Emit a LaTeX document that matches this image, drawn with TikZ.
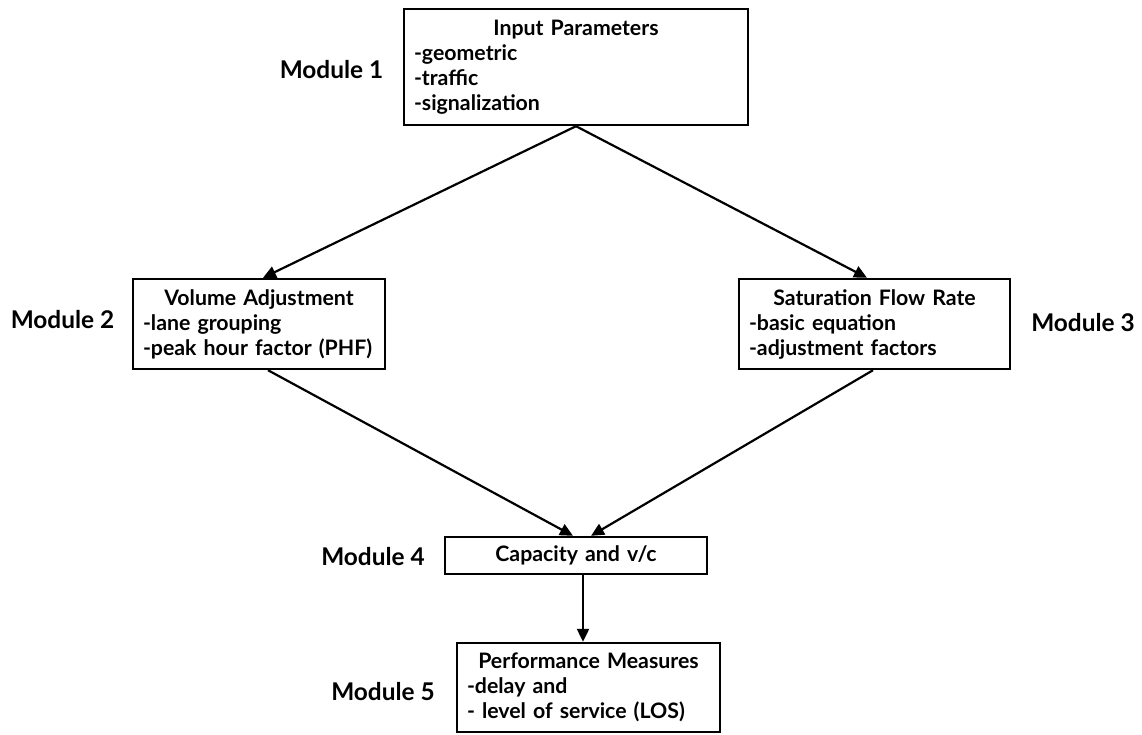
\documentclass[tikz,border=0pt]{standalone}
\usepackage{fontspec}
\setmainfont{Lato}
\usetikzlibrary{arrows.meta,calc}
\tikzset{
  box/.style={draw, line width=2.4pt, inner sep=0pt, align=left,
    font=\fontsize{21.3}{25}\selectfont\bfseries},
  modlabel/.style={inner sep=0pt, font=\fontsize{24.4}{28}\selectfont\bfseries},
  conn/.style={line width=2.2pt, -{Triangle[length=13pt,width=12pt]}}
}
\begin{document}
\begin{tikzpicture}[x=1pt,y=-1pt]
\useasboundingbox (0,0) rectangle (1142,734);
\node[box, minimum width=344, minimum height=116, text width=324] (b1) at (576,67)
  {\makebox[\hsize]{Input Parameters}\\-geometric\\-traffic\\-signalization};
\node[box, minimum width=252, minimum height=90, text width=232] (b2) at (259,324)
  {\makebox[\hsize]{Volume Adjustment}\\-lane grouping\\-peak hour factor (PHF)};
\node[box, minimum width=271, minimum height=90, text width=251] (b3) at (874.5,324)
  {\makebox[\hsize]{Saturation Flow Rate}\\-basic equation\\-adjustment factors};
\node[box, minimum width=262, minimum height=37, text width=242] (b4) at (576,555.5)
  {\makebox[\hsize]{Capacity and v/c}};
\node[box, minimum width=263, minimum height=89, text width=243] (b5) at (588.5,687.5)
  {\makebox[\hsize]{Performance Measures}\\-delay and\\- level of service (LOS)};
\node[modlabel] (m1) at (331.5,70) {Module 1};
\node[modlabel] (m2) at (62.5,320) {Module 2};
\node[modlabel] (m3) at (1083,323) {Module 3};
\node[modlabel] (m4) at (373,557) {Module 4};
\node[modlabel] (m5) at (383,692) {Module 5};
\draw[conn] (b1.south) -- ($(b2.north)+(4,0)$);
\draw[conn] (b1.south) -- ($(b3.north)+(-7.5,0)$);
\draw[conn] ($(b2.south)+(9,0)$) -- ($(b4.north)+(-3,0)$);
\draw[conn] ($(b3.south)+(-1.5,0)$) -- ($(b4.north)+(15,0)$);
\draw[conn] ($(b4.south)+(7,0)$) -- ($(b5.north)+(-5.5,0)$);
\end{tikzpicture}
\end{document}
